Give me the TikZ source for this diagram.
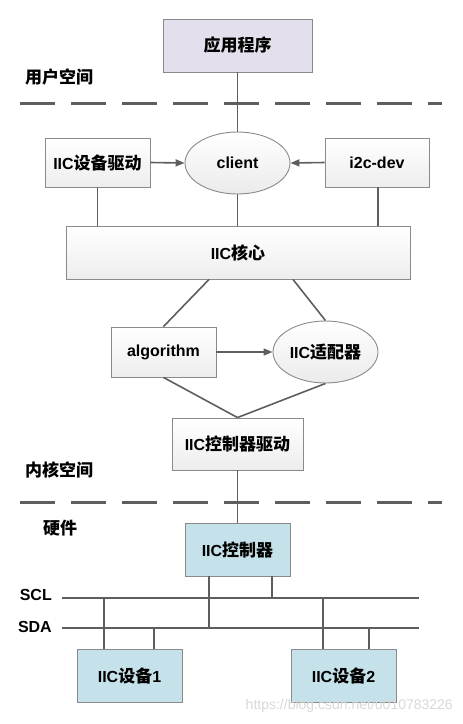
\documentclass[tikz,border=0pt]{standalone}
\usepackage{fontspec}
\setmainfont{Liberation Sans}
\newfontfamily\cjk{Noto Sans CJK SC}
\usetikzlibrary{shapes.geometric,arrows.meta}
\newcommand\zh[1]{{\cjk\fontsize{17}{17}\selectfont #1}}
\definecolor{lineg}{HTML}{5E5E5E}
\definecolor{boxline}{HTML}{8A8A8A}
\definecolor{purp}{HTML}{E4DFEC}
\definecolor{lblue}{HTML}{C5E2EA}
\definecolor{wm}{HTML}{D8D8D8}
\begin{document}
\begin{tikzpicture}[x=1pt,y=-1pt,
  base/.style={draw=boxline, line width=0.9pt, inner sep=0pt, font=\bfseries\fontsize{16}{16}\selectfont},
  graybox/.style={base, rectangle, top color=white, bottom color=gray!14},
  purpbox/.style={base, rectangle, fill=purp},
  bluebox/.style={base, rectangle, fill=lblue, minimum width=105pt, minimum height=53pt},
  oval/.style={base, ellipse, top color=white, bottom color=gray!16, minimum width=105pt, minimum height=62pt},
  conn/.style={draw=lineg, line width=1.6pt},
  arr/.style={conn, -{Triangle[length=9pt,width=7pt]}},
  sepline/.style={draw=lineg, line width=3pt, dash pattern=on 35pt off 16pt},
  lab/.style={font=\bfseries\fontsize{16}{16}\selectfont, inner sep=0pt}
]
\useasboundingbox (0,0) rectangle (463,724);

% separators
\coordinate (s1a) at (20,103); \coordinate (s1b) at (442,103);
\coordinate (s2a) at (20,502); \coordinate (s2b) at (442,502);
\draw[sepline] (s1a) -- (s1b);
\draw[sepline] (s2a) -- (s2b);

% nodes
\node[purpbox, minimum width=149pt, minimum height=53pt] (app) at (237.5,45.5) {\zh{应用程序}};
\node[graybox, minimum width=105pt, minimum height=49pt] (drv) at (97.5,162.5) {IIC\zh{设备驱动}};
\node[oval] (client) at (237.5,163) {client};
\node[graybox, minimum width=104pt, minimum height=49pt] (dev) at (377,162.5) {i2c-dev};
\node[graybox, minimum width=344pt, minimum height=53pt] (core) at (238,252.5) {IIC\zh{核心}};
\node[graybox, minimum width=105pt, minimum height=50pt] (algo) at (163.5,352) {algorithm};
\node[oval] (adap) at (325.5,352) {IIC\zh{适配器}};
\node[graybox, minimum width=131pt, minimum height=52pt] (cdrv) at (237.5,444) {IIC\zh{控制器驱动}};
\node[bluebox] (ctrl) at (237.5,549.5) {IIC\zh{控制器}};
\node[bluebox] (d1) at (129.5,675.5) {IIC\zh{设备}1};
\node[bluebox] (d2) at (343.5,675.5) {IIC\zh{设备}2};

% region labels
\node[lab, anchor=west] (user) at (25,77) {\zh{用户空间}};
\node[lab, anchor=west] (kern) at (25,470) {\zh{内核空间}};
\node[lab, anchor=west] (hw) at (43,528) {\zh{硬件}};
\node[lab, anchor=east] (scl) at (52,595) {SCL};
\node[lab, anchor=east] (sda) at (52,627) {SDA};

% connectors
\draw[conn] (app.south) -- (client.north);
\draw[arr] (drv.east) -- (client.west);
\draw[arr] (dev.west) -- (client.east);
\draw[conn] (drv.south) -- (drv.south |- core.north);
\draw[conn] (client.south) -- (client.south |- core.north);
\coordinate (devb) at ([xshift=1pt]dev.south);
\draw[conn] (devb) -- (devb |- core.north);
\coordinate (cl) at ([xshift=-29pt]core.south);
\coordinate (cr) at ([xshift=55pt]core.south);
\draw[conn] (cl) -- (algo.north);
\draw[conn] (cr) -- (adap.north);
\draw[arr] (algo.east) -- (adap.west);
\draw[conn] (algo.south) -- (cdrv.north);
\draw[conn] (adap.south) -- (cdrv.north);
\draw[conn] (cdrv.south) -- (ctrl.north);

% bus
\coordinate (sclL) at (62,598); \coordinate (sclR) at (419,598);
\coordinate (sdaL) at (62,628); \coordinate (sdaR) at (419,628);
\draw[conn] (sclL) -- (sclR);
\draw[conn] (sdaL) -- (sdaR);
\coordinate (c1) at ([xshift=-28.5pt]ctrl.south);
\coordinate (c2) at ([xshift=34.5pt]ctrl.south);
\draw[conn] (c1) -- (c1 |- sdaL);
\draw[conn] (c2) -- (c2 |- sclL);
\coordinate (a1) at ([xshift=-25.5pt]d1.north);
\coordinate (a2) at ([xshift=24.5pt]d1.north);
\coordinate (b1) at ([xshift=-20.5pt]d2.north);
\coordinate (b2) at ([xshift=25.5pt]d2.north);
\draw[conn] (a1) -- (a1 |- sclL);
\draw[conn] (a2) -- (a2 |- sdaL);
\draw[conn] (b1) -- (b1 |- sclL);
\draw[conn] (b2) -- (b2 |- sdaL);

% watermark
\node[anchor=east, text=wm, font=\fontsize{14}{14}\selectfont, inner sep=0pt] (wmark) at (453,706) {https://blog.csdn.net/u010783226};
\end{tikzpicture}
\end{document}
